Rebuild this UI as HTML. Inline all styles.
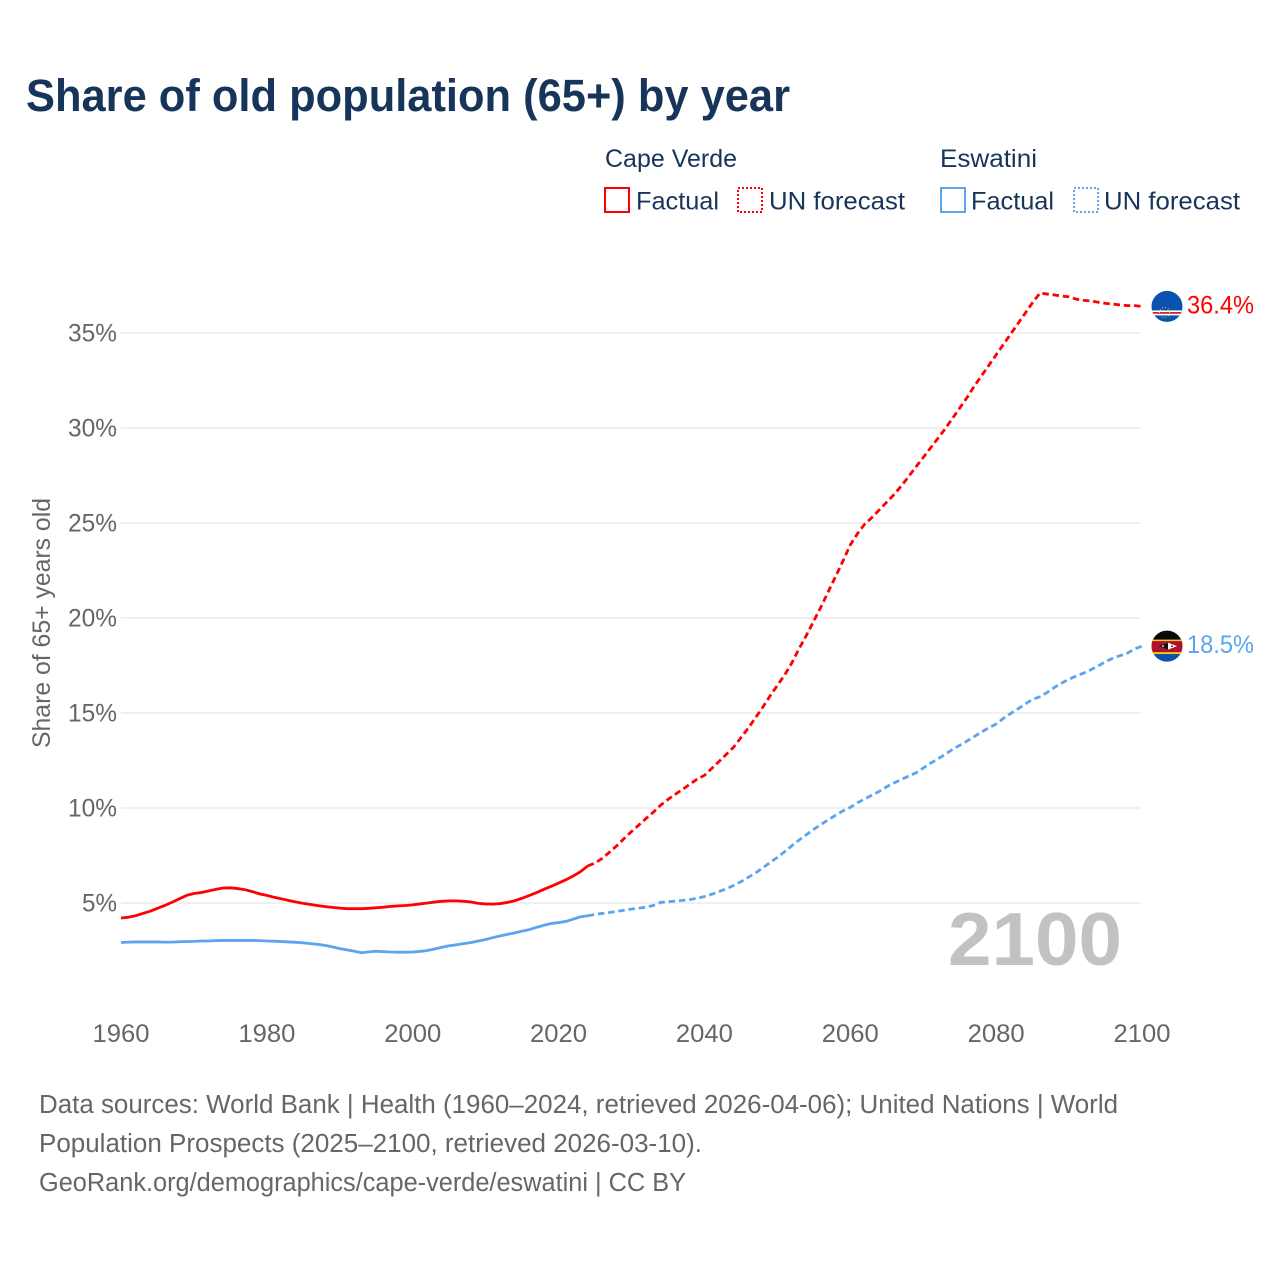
<!DOCTYPE html>
<html lang="en">
<head>
<meta charset="utf-8">
<title>Share of old population (65+) by year</title>
<style>
html,body{margin:0;padding:0;background:#fff;}
svg{display:block;font-family:"Liberation Sans",sans-serif;}
</style>
</head>
<body>
<svg id="chart" xmlns="http://www.w3.org/2000/svg" width="1280" height="1280" viewBox="0 0 1280 1280">
  <rect x="0" y="0" width="1280" height="1280" fill="#ffffff"/>
  <text x="26" y="111" font-size="45" font-weight="700" fill="#17345a" textLength="764" lengthAdjust="spacingAndGlyphs">Share of old population (65+) by year</text>

  <g font-size="25" fill="#17345a">
    <text x="605" y="167" textLength="132" lengthAdjust="spacingAndGlyphs">Cape Verde</text>
    <rect x="605" y="188" width="24" height="24" fill="none" stroke="#ff0000" stroke-width="2"/>
    <text x="636" y="209.5" textLength="83" lengthAdjust="spacingAndGlyphs">Factual</text>
    <rect x="738" y="188" width="24" height="24" fill="none" stroke="#ff0000" stroke-width="2" stroke-dasharray="2 2"/>
    <text x="769" y="209.5" textLength="136" lengthAdjust="spacingAndGlyphs">UN forecast</text>

    <text x="940" y="167" textLength="97" lengthAdjust="spacingAndGlyphs">Eswatini</text>
    <rect x="941" y="188" width="24" height="24" fill="none" stroke="#5ba4ee" stroke-width="2"/>
    <text x="971" y="209.5" textLength="83" lengthAdjust="spacingAndGlyphs">Factual</text>
    <rect x="1074" y="188" width="24" height="24" fill="none" stroke="#5ba4ee" stroke-width="2" stroke-dasharray="2 2"/>
    <text x="1104" y="209.5" textLength="136" lengthAdjust="spacingAndGlyphs">UN forecast</text>
  </g>

  <g id="grid"></g>
  <g id="yticks" font-size="25" fill="#666666"></g>
  <g id="xticks" font-size="25" fill="#666666"></g>
  <text transform="translate(50,623) rotate(-90)" text-anchor="middle" font-size="25" fill="#666666" textLength="250" lengthAdjust="spacingAndGlyphs">Share of 65+ years old</text>

  <text x="948" y="965" font-size="75" font-weight="700" fill="#c2c2c2" textLength="174" lengthAdjust="spacingAndGlyphs">2100</text>

  <g id="lines"></g>

  <defs>
    <clipPath id="flag-clip"><circle cx="0" cy="0" r="15.5"/></clipPath>
  </defs>
  <g id="flag-cv">
    <g clip-path="url(#flag-clip)">
      <rect x="-16" y="-16" width="32" height="32" fill="#0a52b0"/>
      <rect x="-16" y="4" width="32" height="5" fill="#ffffff"/>
      <rect x="-16" y="5.6" width="32" height="1.8" fill="#d8202f"/>
      <circle cx="-2.5" cy="6" r="5" fill="none" stroke="#e8d45a" stroke-width="0.9" stroke-dasharray="1 2"/>
    </g>
  </g>
  <g id="flag-sz">
    <g clip-path="url(#flag-clip)">
      <rect x="-16" y="-16" width="32" height="32" fill="#0a0a0a"/>
      <rect x="-16" y="8" width="32" height="8" fill="#0a52b0"/>
      <rect x="-16" y="-6.5" width="32" height="14.5" fill="#f5c518"/>
      <rect x="-16" y="-5" width="32" height="11" fill="#b0102c"/>
      <path d="M-9 0 L1 -3.5 L10 0 L1 3.5 Z" fill="#ffffff"/>
      <path d="M-9 0 L1 -3.5 L1 3.5 Z" fill="#111111"/>
      <circle cx="-4" cy="0" r="0.9" fill="#ffffff"/>
      <circle cx="5" cy="0" r="0.9" fill="#111111"/>
    </g>
  </g>
  <text id="label-cv" x="1187" font-size="25" fill="#ff0000" textLength="67" lengthAdjust="spacingAndGlyphs"></text>
  <text id="label-sz" x="1187" font-size="25" fill="#5ba4ee" textLength="67" lengthAdjust="spacingAndGlyphs"></text>

  <g font-size="25.5" fill="#666666">
    <text x="39" y="1113" textLength="1079" lengthAdjust="spacingAndGlyphs">Data sources: World Bank | Health (1960–2024, retrieved 2026-04-06); United Nations | World</text>
    <text x="39" y="1152" textLength="663" lengthAdjust="spacingAndGlyphs">Population Prospects (2025–2100, retrieved 2026-03-10).</text>
    <text x="39" y="1191" textLength="647" lengthAdjust="spacingAndGlyphs">GeoRank.org/demographics/cape-verde/eswatini | CC BY</text>
  </g>
</svg>
<script>
const yTickValues = [5, 10, 15, 20, 25, 30, 35];
const xTickYears = [1960, 1980, 2000, 2020, 2040, 2060, 2080, 2100];
const factualStartYear = 1960;
const forecastStartYear = 2024;

const capeVerdeFactual = [4.21,4.25,4.33,4.45,4.57,4.72,4.87,5.04,5.22,5.4,5.5,5.55,5.63,5.72,5.79,5.8,5.76,5.7,5.6,5.48,5.4,5.3,5.22,5.13,5.05,4.98,4.92,4.86,4.81,4.77,4.73,4.7,4.7,4.7,4.72,4.75,4.78,4.82,4.85,4.87,4.9,4.95,5.0,5.05,5.09,5.11,5.11,5.09,5.05,4.98,4.95,4.94,4.97,5.03,5.12,5.25,5.4,5.55,5.72,5.88,6.05,6.22,6.42,6.65,6.95];
const capeVerdeForecast = [6.95,7.1,7.35,7.68,8.02,8.4,8.76,9.1,9.45,9.78,10.15,10.45,10.72,10.98,11.25,11.52,11.72,12.08,12.45,12.82,13.2,13.7,14.2,14.75,15.3,15.9,16.45,17.0,17.65,18.4,19.1,19.85,20.6,21.4,22.2,23.0,23.85,24.45,24.95,25.3,25.7,26.1,26.5,26.95,27.45,27.95,28.45,28.95,29.45,29.95,30.5,31.05,31.6,32.2,32.75,33.3,33.85,34.4,34.95,35.5,36.05,36.6,37.1,37.05,37.0,36.95,36.9,36.78,36.72,36.68,36.62,36.56,36.52,36.48,36.44,36.44,36.4];
const eswatiniFactual = [2.92,2.94,2.95,2.95,2.95,2.95,2.94,2.94,2.96,2.97,2.98,3.0,3.0,3.02,3.03,3.03,3.03,3.03,3.03,3.02,3.0,2.99,2.97,2.95,2.93,2.9,2.86,2.82,2.77,2.69,2.6,2.53,2.46,2.38,2.43,2.46,2.44,2.42,2.41,2.41,2.42,2.45,2.5,2.58,2.67,2.75,2.8,2.86,2.92,3.0,3.08,3.18,3.27,3.35,3.43,3.52,3.6,3.72,3.83,3.92,3.97,4.03,4.15,4.27,4.33];
const eswatiniForecast = [4.33,4.4,4.45,4.5,4.56,4.62,4.68,4.73,4.78,4.87,5.03,5.07,5.1,5.14,5.18,5.25,5.34,5.46,5.6,5.75,5.92,6.12,6.35,6.58,6.85,7.13,7.4,7.7,8.02,8.32,8.6,8.88,9.14,9.38,9.62,9.85,10.03,10.28,10.48,10.68,10.88,11.12,11.32,11.5,11.68,11.85,12.1,12.36,12.58,12.82,13.08,13.3,13.52,13.76,14.0,14.22,14.42,14.72,14.98,15.22,15.48,15.72,15.85,16.08,16.35,16.58,16.78,16.95,17.1,17.28,17.48,17.7,17.88,18.02,18.15,18.38,18.52];

const NS = 'http://www.w3.org/2000/svg';
const xScale = function (year) { return 121 + (year - 1960) * (1021 / 140); };
const yScale = function (value) { return 998 - value * 19; };

function buildPath(values, startYear) {
  return values.map(function (v, i) {
    return (i ? 'L' : 'M') + xScale(startYear + i).toFixed(2) + ' ' + yScale(v).toFixed(2);
  }).join(' ');
}

const gridGroup = document.getElementById('grid');
const yGroup = document.getElementById('yticks');
yTickValues.forEach(function (v) {
  const line = document.createElementNS(NS, 'line');
  
  
  line.setAttribute('x1', 121);
  line.setAttribute('x2', 1141);
  line.setAttribute('y1', yScale(v));
  line.setAttribute('y2', yScale(v));
  line.setAttribute('stroke', '#e8e8e8');
  line.setAttribute('stroke-width', '1.2');
  gridGroup.appendChild(line);

  const t = document.createElementNS(NS, 'text');
  
  
  t.setAttribute('x', 117);
  t.setAttribute('y', yScale(v) + 8.5);
  t.setAttribute('text-anchor', 'end');
  t.setAttribute('textLength', v < 10 ? 35 : 49);
  t.setAttribute('lengthAdjust', 'spacingAndGlyphs');
  t.textContent = v + '%';
  yGroup.appendChild(t);
});

const xGroup = document.getElementById('xticks');
xTickYears.forEach(function (year) {
  const t = document.createElementNS(NS, 'text');
  
  
  t.setAttribute('x', xScale(year));
  t.setAttribute('y', 1042);
  t.setAttribute('text-anchor', 'middle');
  t.setAttribute('textLength', 57);
  t.setAttribute('lengthAdjust', 'spacingAndGlyphs');
  t.textContent = String(year);
  xGroup.appendChild(t);
});

const lineGroup = document.getElementById('lines');
function addLine(name, values, startYear, color, dashed) {
  const p = document.createElementNS(NS, 'path');
  
  
  p.setAttribute('d', buildPath(values, startYear));
  p.setAttribute('fill', 'none');
  p.setAttribute('stroke', color);
  p.setAttribute('stroke-width', '2.8');
  p.setAttribute('stroke-linejoin', 'round');
  if (dashed) p.setAttribute('stroke-dasharray', '6.5 3.8');
  lineGroup.appendChild(p);
}
addLine('eswatini-factual-line', eswatiniFactual, factualStartYear, '#5ba4ee', false);
addLine('eswatini-forecast-line', eswatiniForecast, forecastStartYear, '#5ba4ee', true);
addLine('cape-verde-factual-line', capeVerdeFactual, factualStartYear, '#ff0000', false);
addLine('cape-verde-forecast-line', capeVerdeForecast, forecastStartYear, '#ff0000', true);

function placeEnd(flagId, labelId, values) {
  const last = values[values.length - 1];
  const y = yScale(last);
  document.getElementById(flagId).setAttribute('transform', 'translate(1167,' + y.toFixed(1) + ')');
  const label = document.getElementById(labelId);
  label.setAttribute('y', (y + 7).toFixed(1));
  label.textContent = last.toFixed(1) + '%';
}
placeEnd('flag-cv', 'label-cv', capeVerdeForecast);
placeEnd('flag-sz', 'label-sz', eswatiniForecast);
</script>
</body>
</html>
